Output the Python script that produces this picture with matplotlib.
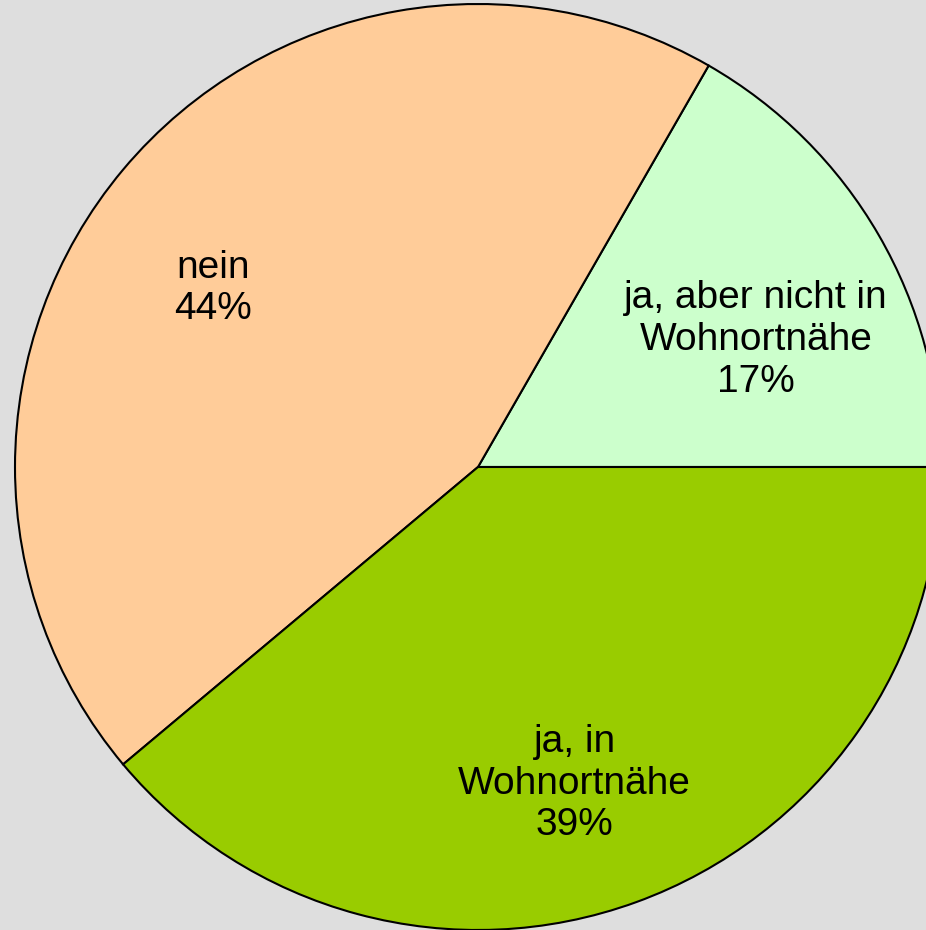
import numpy as np
import matplotlib.pyplot as plt

plt.rcParams['font.family'] = ['Liberation Sans', 'DejaVu Sans']

# data (share of answers, percent)
labels = ["ja, aber nicht in\nWohnortnähe", "nein", "ja, in\nWohnortnähe"]
values = [16.7, 44.4, 38.9]
colors = ["#CCFFCC", "#FFCC99", "#99CC00"]

# label placement tweaks (degrees offset from slice middle, fraction of radius)
label_shift = [-5.5, 6, -3]
label_dist = [0.66, 0.69, 0.715]

W, H = 926, 930
fig = plt.figure(figsize=(W / 100, H / 100), dpi=100)
fig.patch.set_facecolor("#DEDEDE")
ax = fig.add_axes([0, 0, 1, 1])

cx, cy, R = 478, H - 467, 463

wedges, _ = ax.pie(
    values,
    colors=colors,
    startangle=0,
    counterclock=True,
    center=(cx, cy),
    radius=R,
    frame=True,
    wedgeprops=dict(edgecolor="black", linewidth=1.5),
)
ax.set_xlim(0, W)
ax.set_ylim(0, H)
ax.set_aspect("equal")
ax.axis("off")

for w, lab, v, sh, d in zip(wedges, labels, values, label_shift, label_dist):
    mid = np.deg2rad((w.theta1 + w.theta2) / 2 + sh)
    x = cx + d * R * np.cos(mid)
    y = cy + d * R * np.sin(mid)
    ax.text(x, y, f"{lab}\n{v:.0f}%", ha="center", va="center",
            fontsize=28, linespacing=1.2)

fig.savefig("out.png", dpi=100, facecolor=fig.get_facecolor())
